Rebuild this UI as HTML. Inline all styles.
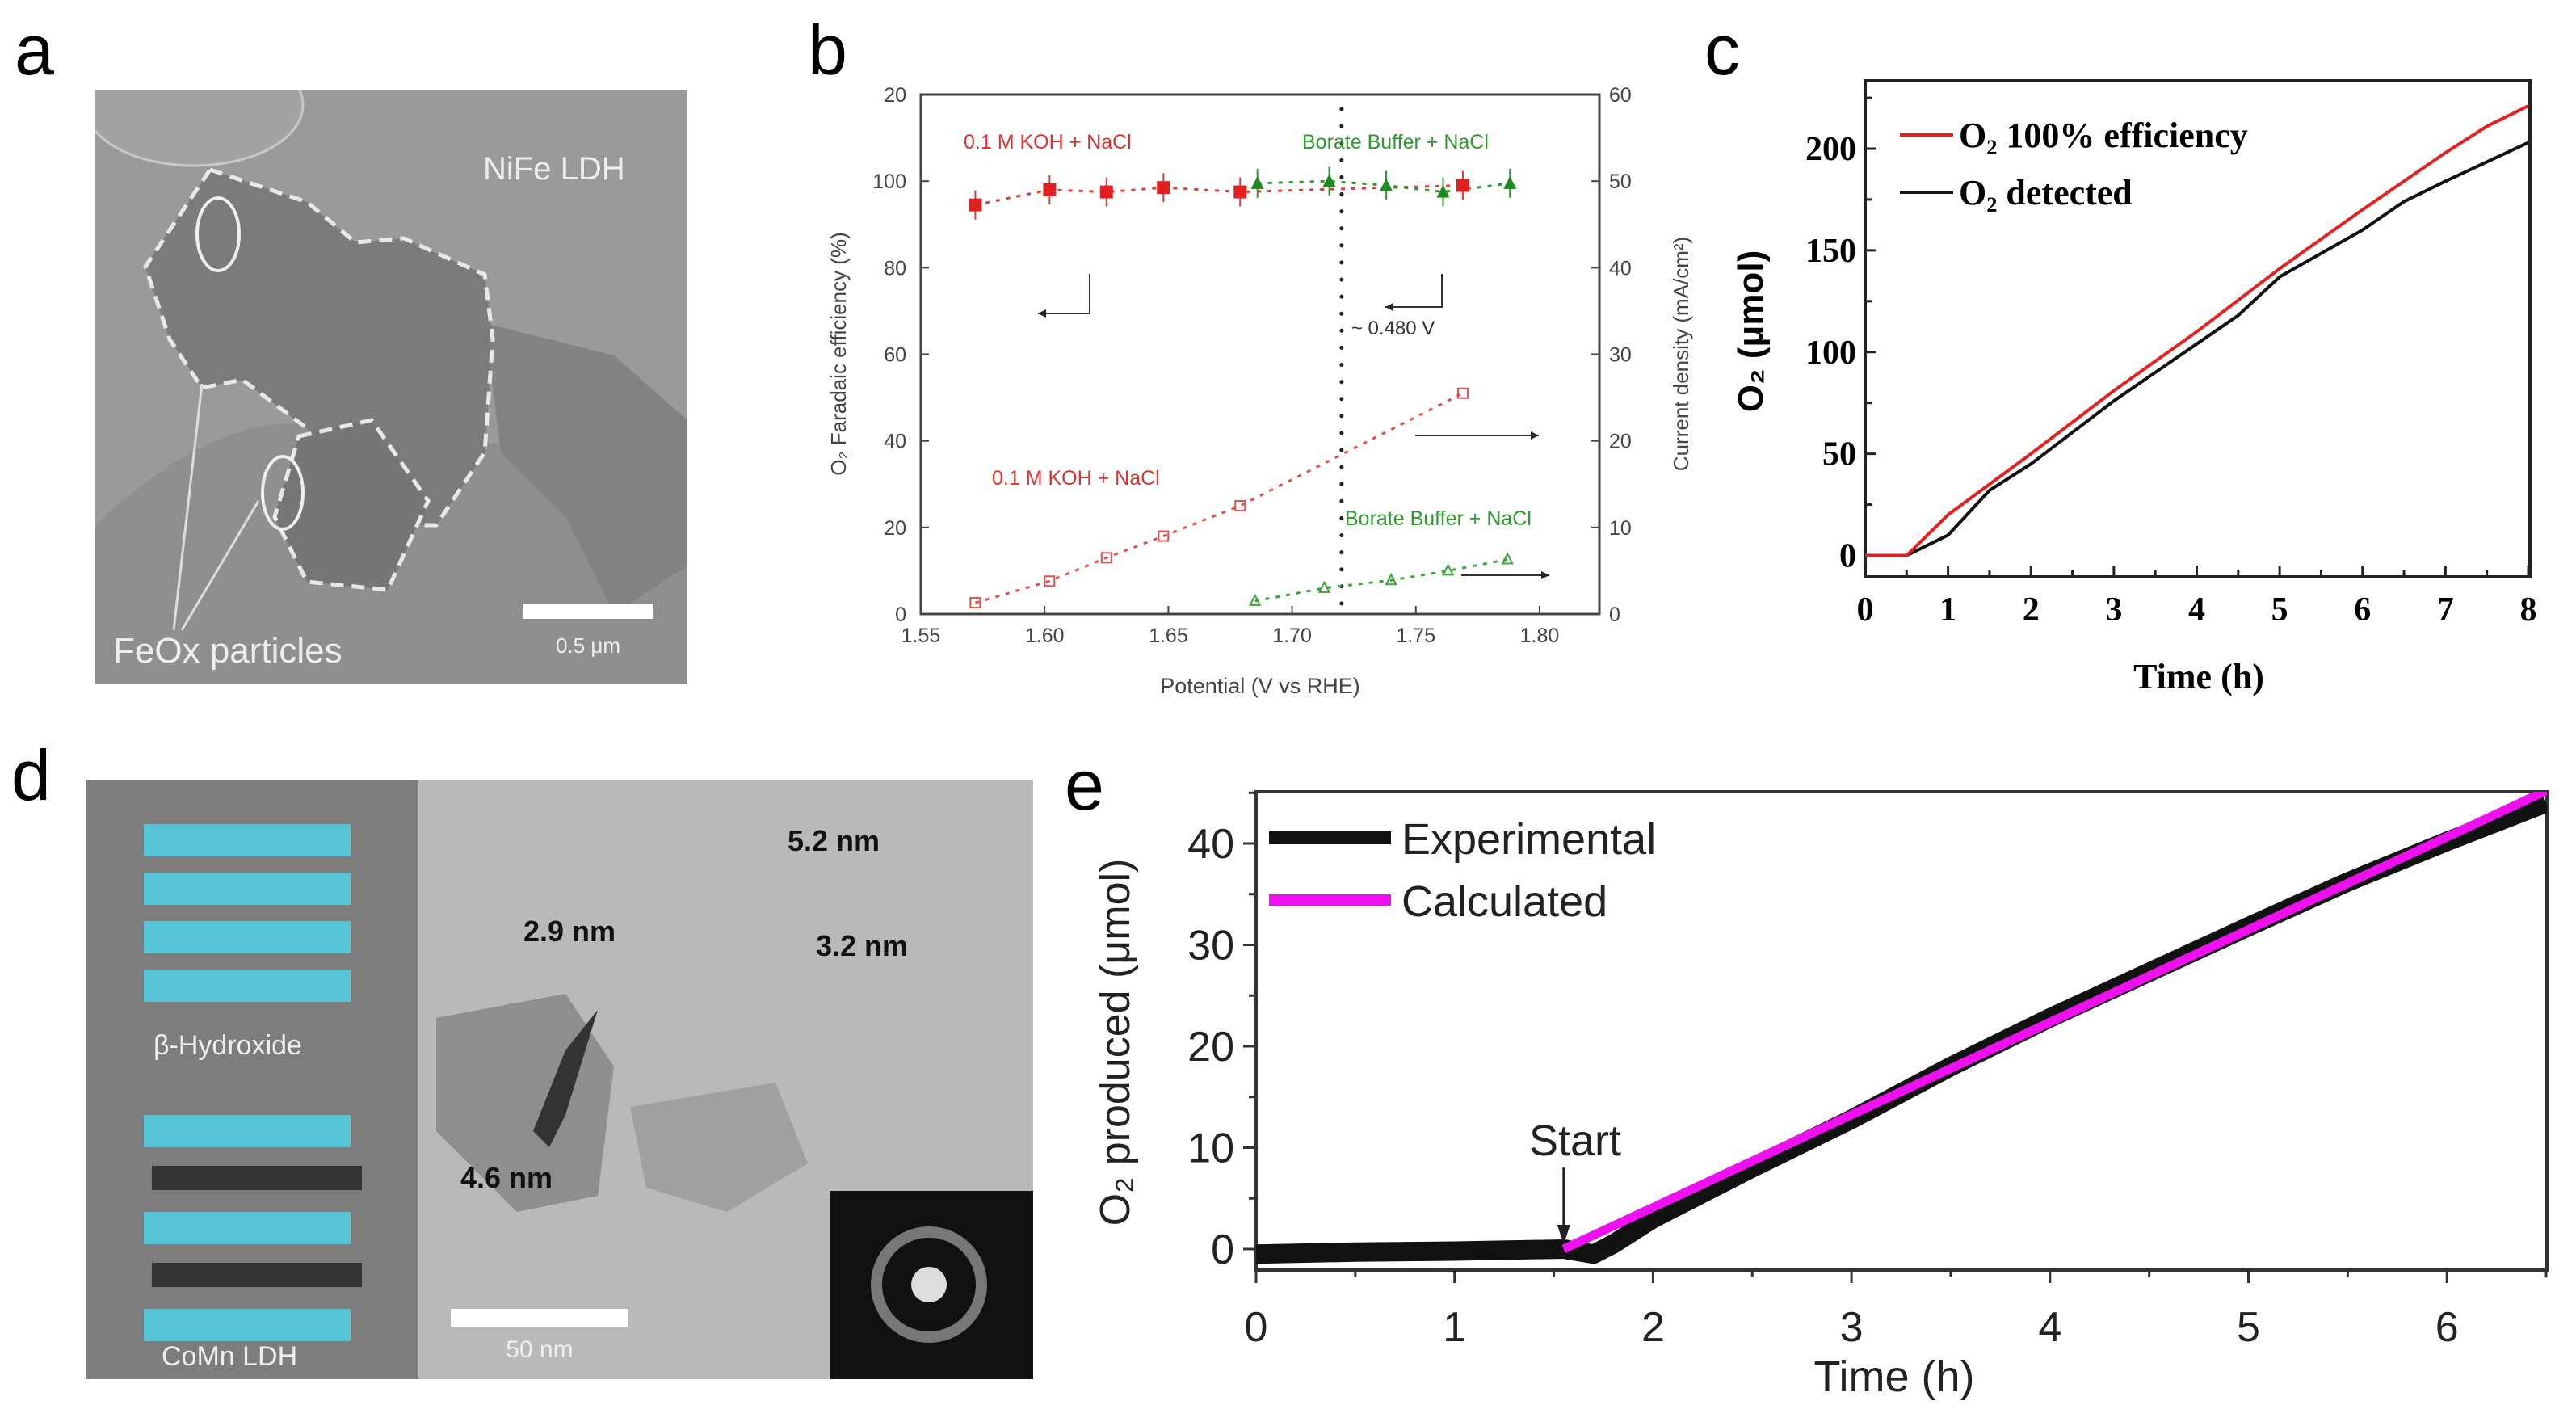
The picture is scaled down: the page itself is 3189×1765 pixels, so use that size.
<!DOCTYPE html>
<html><head><meta charset="utf-8"><style>
html,body{margin:0;padding:0;background:#fff}
svg{display:block}
text{font-family:"Liberation Sans",sans-serif}
.tm{font-family:"Liberation Serif",serif;font-weight:bold}
</style></head><body>
<svg id="fig" width="3189" height="1765" viewBox="0 0 3189 1765" xmlns="http://www.w3.org/2000/svg">
<defs><clipPath id="ca"><rect x="118" y="112" width="733" height="735"/></clipPath></defs>
<!-- Panel a -->
<g>
<text x="18" y="92" font-size="88">a</text>
<rect x="118" y="112" width="733" height="735" fill="#8f8f8f"/>
<g clip-path="url(#ca)">
<path d="M118 650 Q300 480 430 540 L851 560 L851 112 L118 112Z" fill="#9a9a9a"/>
<ellipse cx="240" cy="130" rx="135" ry="75" fill="#a3a3a3" stroke="#c8c8c8" stroke-width="3"/>
<path d="M600 400 L760 440 L851 520 L851 700 L760 760 L700 640 L620 560Z" fill="#838383"/>
<path d="M260 210 L380 250 L440 300 L500 295 L600 340 L610 420 L600 560 L540 650 L470 650 L400 600 L380 530 L300 470 L250 480 L210 420 L180 330Z" fill="#7b7b7b" stroke="#e8e8e8" stroke-width="5" stroke-dasharray="16 10"/>
<path d="M370 540 L460 520 L530 620 L480 730 L380 720 L340 640Z" fill="#767676" stroke="#e8e8e8" stroke-width="5" stroke-dasharray="16 10"/>
</g>
<text x="598" y="222" font-size="40" fill="#eee">NiFe LDH</text>
<text x="140" y="820" font-size="44" fill="#eee">FeOx particles</text>
<rect x="647" y="748" width="162" height="18" fill="#fff"/>
<text x="728" y="808" font-size="26" fill="#eee" text-anchor="middle">0.5 μm</text>
<line x1="215" y1="780" x2="250" y2="475" stroke="#ddd" stroke-width="3"/>
<line x1="225" y1="780" x2="320" y2="620" stroke="#ddd" stroke-width="3"/>
<ellipse cx="270" cy="290" rx="26" ry="45" fill="none" stroke="#eee" stroke-width="4"/>
<ellipse cx="350" cy="610" rx="25" ry="45" fill="none" stroke="#eee" stroke-width="4"/>
</g>

<!-- Panel d -->
<g>
<text x="14" y="990" font-size="88">d</text>
<rect x="106" y="965" width="412" height="742" fill="#7d7d7d"/>
<rect x="518" y="965" width="761" height="742" fill="#b9b9b9"/>
<path d="M540 1260 L700 1230 L760 1320 L740 1480 L640 1500 L540 1400Z" fill="#8e8e8e"/>
<path d="M780 1370 L960 1340 L1000 1440 L900 1500 L800 1470Z" fill="#a0a0a0"/>
<path d="M660 1400 L700 1300 L740 1250 L700 1380 L680 1420Z" fill="#333"/>
<rect x="1028" y="1474" width="251" height="233" fill="#111"/>
<circle cx="1150" cy="1590" r="65" fill="none" stroke="#777" stroke-width="14"/>
<circle cx="1150" cy="1590" r="22" fill="#ddd"/>
<g fill="#58c5d6">
<rect x="178" y="1020" width="256" height="40"/><rect x="178" y="1080" width="256" height="40"/>
<rect x="178" y="1140" width="256" height="40"/><rect x="178" y="1200" width="256" height="40"/>
<rect x="178" y="1380" width="256" height="40"/><rect x="178" y="1500" width="256" height="40"/>
<rect x="178" y="1620" width="256" height="40"/></g>
<rect x="188" y="1443" width="260" height="30" fill="#333"/>
<rect x="188" y="1563" width="260" height="30" fill="#333"/>
<text x="190" y="1305" font-size="34" fill="#eee">β-Hydroxide</text>
<text x="200" y="1690" font-size="34" fill="#eee">CoMn LDH</text>
<g font-size="36" font-weight="bold" fill="#111">
<text x="648" y="1165">2.9 nm</text>
<text x="570" y="1470">4.6 nm</text>
<text x="975" y="1053">5.2 nm</text>
<text x="1010" y="1183">3.2 nm</text></g>
<rect x="558" y="1620" width="220" height="22" fill="#fff"/>
<text x="668" y="1680" font-size="30" fill="#eee" text-anchor="middle">50 nm</text>
</g>

<g id="pb"></g>
<g id="pc"></g>
<g id="pe"></g>
</svg>
<script>
const NS="http://www.w3.org/2000/svg";
function mk(p,tag,at,txt){const e=document.createElementNS(NS,tag);for(const k in at)e.setAttribute(k,at[k]);if(txt!==undefined)e.textContent=txt;p.appendChild(e);return e;}

// ---------- Panel b data ----------
const bKohFeX=[1.572,1.602,1.625,1.648,1.679,1.769];
const bKohFe=[94.5,98,97.5,98.5,97.5,99];
const bBorFeX=[1.686,1.715,1.738,1.761,1.788];
const bBorFe=[99.5,100,99,97.5,99.5];
const bKohJX=[1.572,1.602,1.625,1.648,1.679,1.769];
const bKohJ=[1.3,3.8,6.5,9,12.5,25.5];
const bBorJX=[1.685,1.713,1.740,1.763,1.787];
const bBorJ=[1.5,3,3.9,5,6.3];
const bXTicks=[1.55,1.60,1.65,1.70,1.75,1.80];
const bYTicks=[0,20,40,60,80,100,120];
const bY2Ticks=[0,10,20,30,40,50,60];
// ---------- Panel c data ----------
const cTime=[0,0.5,1,1.5,2,3,4,5,6,7,7.5,8];
const cIdeal=[0,0,20,35,50,81,110,141,170,198,211,221];
const cTime2=[0,0.5,1,1.5,2,3,4,4.5,5,6,6.5,7,8];
const cDetected=[0,0,10,32,45,76,104,118,137,160,174,184,203];
const cXTicks=[0,1,2,3,4,5,6,7,8];
const cYTicks=[0,50,100,150,200];
// ---------- Panel e data ----------
const eExpT=[0,0.5,1,1.55,1.7,1.8,2,2.5,3,3.5,4,4.5,5,5.5,6,6.5];
const eExp=[-0.5,-0.3,-0.2,0,-0.5,0.5,3,8,12.8,18,22.8,27.3,31.8,36.2,40.2,44];
const eCalcT=[1.55,6.5];
const eCalc=[0,45.2];
const eXTicks=[0,1,2,3,4,5,6];
const eYTicks=[0,10,20,30,40];

// ---------- Panel b ----------
(function(){
const g=document.getElementById('pb');
const L=1140,R=1980,T=117,B=760;
const X=v=>1140+(v-1.55)/(0.25)*(1906-1140);
const Y=v=>B-(v/120)*(B-T);
const Y2=v=>B-(v/60)*(B-T);
mk(g,'text',{x:1000,y:92,'font-size':88,},'b');
mk(g,'rect',{x:L,y:T,width:R-L,height:B-T,fill:'none',stroke:'#444','stroke-width':3,});
bXTicks.forEach(v=>{const x=X(v);
 const t=mk(g,'line',{x1:x,y1:B,x2:x,y2:B-10,stroke:'#444','stroke-width':2});
 
 const l=mk(g,'text',{x:x,y:795,'font-size':25,fill:'#444','text-anchor':'middle'},v.toFixed(2));
 });
bYTicks.forEach(v=>{const y=Y(v);
 mk(g,'line',{x1:L,y1:y,x2:L+10,y2:y,stroke:'#444','stroke-width':2});
 const l=mk(g,'text',{x:1122,y:y+9,'font-size':25,fill:'#444','text-anchor':'end'},v===120?'20':String(v));
 });
bY2Ticks.forEach(v=>{const y=Y2(v);
 mk(g,'line',{x1:R,y1:y,x2:R-10,y2:y,stroke:'#444','stroke-width':2});
 const l=mk(g,'text',{x:1992,y:y+9,'font-size':25,fill:'#444'},String(v));
 });
let t=mk(g,'text',{x:1560,y:858,'font-size':27,fill:'#444','text-anchor':'middle'},'Potential (V vs RHE)');

t=mk(g,'text',{x:0,y:0,'font-size':26,fill:'#444','text-anchor':'middle',transform:'translate(1047,438) rotate(-90)'},'O₂ Faradaic efficiency (%)');

t=mk(g,'text',{x:0,y:0,'font-size':26,fill:'#444','text-anchor':'middle',transform:'translate(2090,438) rotate(-90)'},'Current density (mA/cm²)');

mk(g,'line',{x1:X(1.72),y1:135,x2:X(1.72),y2:B,stroke:'#222','stroke-width':5,'stroke-dasharray':'0.1 21','stroke-linecap':'round'});
mk(g,'text',{x:X(1.72)+12,y:414,'font-size':24,fill:'#333'},'~ 0.480 V');
function poly(xs,ys,yf,col,name){const p=mk(g,'polyline',{points:xs.map((x,i)=>X(x)+','+yf(ys[i])).join(' '),fill:'none',stroke:col,'stroke-width':3,'stroke-dasharray':'5 8'});
 }
poly(bKohFeX,bKohFe,Y,'#e23b3b','koh-fe-line');
poly(bBorFeX,bBorFe,Y,'#2e9a2e','borate-fe-line');
poly(bKohJX,bKohJ,Y2,'#e05050','koh-current-line');
poly(bBorJX,bBorJ,Y2,'#3aa53a','borate-current-line');
bKohFeX.forEach((x,i)=>{const cx=X(x),cy=Y(bKohFe[i]);
 mk(g,'line',{x1:cx,y1:cy-18,x2:cx,y2:cy+18,stroke:'#e23b3b','stroke-width':2});
 const m=mk(g,'rect',{x:cx-8,y:cy-8,width:16,height:16,fill:'#e02020'});
 });
bBorFeX.forEach((x,i)=>{const cx=X(x),cy=Y(bBorFe[i]);
 mk(g,'line',{x1:cx,y1:cy-18,x2:cx,y2:cy+18,stroke:'#2e9a2e','stroke-width':2});
 const m=mk(g,'path',{d:`M${cx} ${cy-9} L${cx+8} ${cy+7} L${cx-8} ${cy+7}Z`,fill:'#1f8a1f'});
 });
bKohJX.forEach((x,i)=>{const m=mk(g,'rect',{x:X(x)-6,y:Y2(bKohJ[i])-6,width:12,height:12,fill:'none',stroke:'#e05050','stroke-width':2});
 });
bBorJX.forEach((x,i)=>{const cx=X(x),cy=Y2(bBorJ[i]);const m=mk(g,'path',{d:`M${cx} ${cy-7} L${cx+6} ${cy+5} L${cx-6} ${cy+5}Z`,fill:'none',stroke:'#3aa53a','stroke-width':2});
 });
const lab=[[1193,184,'#e03030','0.1 M KOH + NaCl'],[1612,184,'#2e9a2e','Borate Buffer + NaCl'],[1228,600,'#e03030','0.1 M KOH + NaCl'],[1665,650,'#2e9a2e','Borate Buffer + NaCl']];
lab.forEach(a=>{const e=mk(g,'text',{x:a[0],y:a[1],'font-size':25,fill:a[2]},a[3]);});
mk(g,'path',{d:'M1349 339 L1349 388 L1285 388',fill:'none',stroke:'#333','stroke-width':2});
mk(g,'path',{d:'M1785 339 L1785 380 L1715 380',fill:'none',stroke:'#333','stroke-width':2});
mk(g,'line',{x1:1752,y1:539,x2:1905,y2:539,stroke:'#333','stroke-width':2});
mk(g,'line',{x1:1809,y1:712,x2:1918,y2:712,stroke:'#333','stroke-width':2});
[[1285,388,-1],[1715,380,-1],[1905,539,1],[1918,712,1]].forEach(a=>mk(g,'path',{d:`M${a[0]} ${a[1]} l${-10*a[2]} -5 l0 10Z`,fill:'#222'}));
})();

// ---------- Panel c ----------
(function(){
const g=document.getElementById('pc');
const L=2309,R=3132,T=100,B=714;
const X=v=>L+v/8*(3130-L);
const Y=v=>687.5-v*(687.5-184)/200;
mk(g,'text',{x:2110,y:92,'font-size':88,},'c');
mk(g,'rect',{x:L,y:T,width:R-L,height:B-T,fill:'none',stroke:'#222','stroke-width':4,});
cXTicks.forEach(v=>{const x=X(v);mk(g,'line',{x1:x,y1:B,x2:x,y2:B-14,stroke:'#222','stroke-width':3});
 if(v<8)mk(g,'line',{x1:X(v+0.5),y1:B,x2:X(v+0.5),y2:B-8,stroke:'#222','stroke-width':3});
 const l=mk(g,'text',{x:x,y:768,'font-size':42,'text-anchor':'middle',class:'tm'},String(v));
 });
cYTicks.forEach(v=>{const y=Y(v);mk(g,'line',{x1:L,y1:y,x2:L+14,y2:y,stroke:'#222','stroke-width':3});
 mk(g,'line',{x1:L,y1:Y(v+25),x2:L+8,y2:Y(v+25),stroke:'#222','stroke-width':3});
 const l=mk(g,'text',{x:2298,y:y+14,'font-size':42,'text-anchor':'end',class:'tm'},String(v));
 });
let t=mk(g,'text',{x:2722,y:852,'font-size':44,'text-anchor':'middle',class:'tm'},'Time (h)');

t=mk(g,'text',{x:0,y:0,'font-size':44,'font-weight':'bold','text-anchor':'middle',transform:'translate(2182,410) rotate(-90)'},'O₂ (μmol)');

let p=mk(g,'polyline',{points:cTime2.map((x,i)=>X(x)+','+Y(cDetected[i])).join(' '),fill:'none',stroke:'#111','stroke-width':4});

p=mk(g,'polyline',{points:cTime.map((x,i)=>X(x)+','+Y(cIdeal[i])).join(' '),fill:'none',stroke:'#e52222','stroke-width':4});

mk(g,'line',{x1:2352,y1:167,x2:2418,y2:167,stroke:'#e52222','stroke-width':4,});
mk(g,'line',{x1:2352,y1:238,x2:2418,y2:238,stroke:'#111','stroke-width':4,});
t=mk(g,'text',{x:2425,y:182,'font-size':44,class:'tm'},'O₂ 100% efficiency');
t=mk(g,'text',{x:2425,y:253,'font-size':44,class:'tm'},'O₂ detected');
})();

// ---------- Panel e ----------
(function(){
const g=document.getElementById('pe');
const L=1555,R=3153,T=980,B=1572;
const X=v=>L+v*245.7;
const Y=v=>1546-v*12.55;
mk(g,'text',{x:1318,y:1002,'font-size':88,},'e');
mk(g,'rect',{x:L,y:T,width:R-L,height:B-T,fill:'none',stroke:'#333','stroke-width':4,});
eXTicks.forEach(v=>{const x=X(v);mk(g,'line',{x1:x,y1:B,x2:x,y2:B+16,stroke:'#333','stroke-width':3});
 mk(g,'line',{x1:X(v+0.5),y1:B,x2:X(v+0.5),y2:B+9,stroke:'#333','stroke-width':3});
 const l=mk(g,'text',{x:x,y:1660,'font-size':52,'text-anchor':'middle',fill:'#222'},String(v));
 });
eYTicks.forEach(v=>{const y=Y(v);mk(g,'line',{x1:L,y1:y,x2:L-16,y2:y,stroke:'#333','stroke-width':3});
 mk(g,'line',{x1:L,y1:Y(v+5),x2:L-9,y2:Y(v+5),stroke:'#333','stroke-width':3});
 const l=mk(g,'text',{x:1528,y:y+18,'font-size':52,'text-anchor':'end',fill:'#222'},String(v));
 });
let t=mk(g,'text',{x:2345,y:1722,'font-size':54,'text-anchor':'middle',fill:'#222'},'Time (h)');

t=mk(g,'text',{x:0,y:0,'font-size':52,'text-anchor':'middle',fill:'#222',transform:'translate(1398,1290) rotate(-90)'},'O₂ produced (μmol)');

const cl=mk(g,'clipPath',{id:'ce'});mk(cl,'rect',{x:L,y:T,width:R-L,height:B-T});
let p=mk(g,'polyline',{points:eExpT.map((x,i)=>X(x)+','+Y(eExp[i])).join(' '),fill:'none',stroke:'#111','stroke-width':24,'stroke-linejoin':'round','clip-path':'url(#ce)'});

p=mk(g,'polyline',{points:eCalcT.map((x,i)=>X(x)+','+Y(eCalc[i])).join(' '),fill:'none',stroke:'#ee10ee','stroke-width':11,'clip-path':'url(#ce)'});

mk(g,'line',{x1:1571,y1:1037,x2:1722,y2:1037,stroke:'#111','stroke-width':16,});
mk(g,'line',{x1:1571,y1:1114,x2:1722,y2:1114,stroke:'#ee10ee','stroke-width':14,});
t=mk(g,'text',{x:1735,y:1057,'font-size':54,fill:'#222'},'Experimental');
t=mk(g,'text',{x:1735,y:1134,'font-size':54,fill:'#222'},'Calculated');
t=mk(g,'text',{x:1950,y:1430,'font-size':54,'text-anchor':'middle',fill:'#222'},'Start');
mk(g,'line',{x1:X(1.55),y1:1445,x2:X(1.55),y2:1520,stroke:'#222','stroke-width':3});
mk(g,'path',{d:`M${X(1.55)} 1540 l-8 -24 l16 0Z`,fill:'#222'});
})();
</script>
</body></html>
